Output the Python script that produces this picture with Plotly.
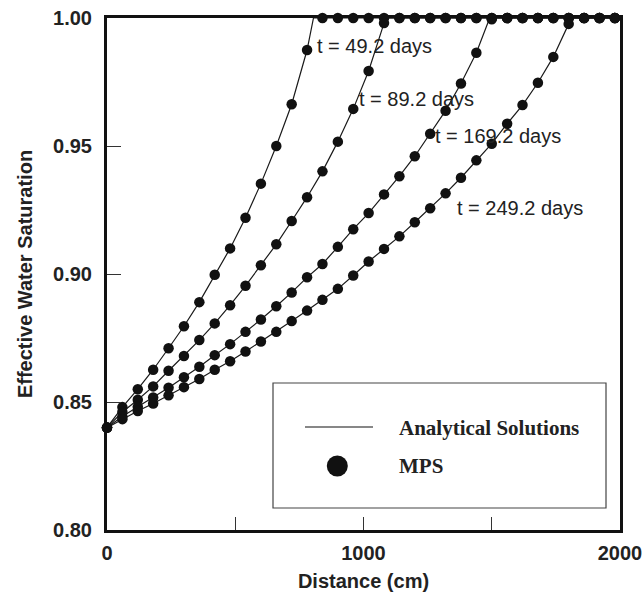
import plotly.graph_objects as go

# ---- data ----
distance_cm = [0, 60, 120, 180, 240, 300, 360, 420, 480, 540, 600, 660, 720, 780,
               840, 900, 960, 1020, 1080, 1140, 1200, 1260, 1320, 1380, 1440, 1500,
               1560, 1620, 1680, 1740, 1800, 1860, 1920, 1980]

sat_t49 = [0.840, 0.848, 0.855, 0.8626, 0.871, 0.8796, 0.889, 0.8997, 0.910, 0.922,
           0.9353, 0.950, 0.9663, 0.9875,
           1.0, 1.0, 1.0, 1.0, 1.0, 1.0, 1.0, 1.0, 1.0, 1.0, 1.0, 1.0, 1.0, 1.0, 1.0,
           1.0, 1.0, 1.0, 1.0, 1.0]
sat_t89 = [0.840, 0.8461, 0.8509, 0.8561, 0.8622, 0.868, 0.8742, 0.8807, 0.8878, 0.8954,
           0.9034, 0.9116, 0.9207, 0.930, 0.9401, 0.9517, 0.9645, 0.9793, 0.998,
           1.0, 1.0, 1.0, 1.0, 1.0, 1.0, 1.0, 1.0, 1.0, 1.0, 1.0, 1.0, 1.0, 1.0, 1.0]
sat_t169 = [0.840, 0.8443, 0.8481, 0.8518, 0.8556, 0.8597, 0.8638, 0.8683, 0.8726, 0.8774,
            0.8822, 0.8874, 0.8928, 0.8987, 0.9039, 0.9106, 0.9175, 0.9238, 0.9311, 0.9382,
            0.946, 0.9548, 0.9638, 0.9744, 0.9864, 0.9995,
            1.0, 1.0, 1.0, 1.0, 1.0, 1.0, 1.0, 1.0]
sat_t249 = [0.840, 0.8433, 0.8465, 0.8494, 0.8526, 0.8558, 0.859, 0.8626, 0.8659, 0.8697,
            0.8736, 0.8774, 0.8816, 0.8857, 0.8899, 0.8942, 0.8994, 0.9049, 0.9098, 0.9147,
            0.9202, 0.9257, 0.9315, 0.9376, 0.9444, 0.9509, 0.9587, 0.966, 0.9747, 0.9848,
            0.9977, 1.0, 1.0, 1.0]

series = [sat_t49, sat_t89, sat_t169, sat_t249]
# number of points below saturation on each analytical curve, and where it reaches 1.0
n_unsat = [14, 19, 25, 31]
front_x = [805, 1090, 1492, 1812]

labels = ["t = 49.2 days", "t = 89.2 days", "t = 169.2 days", "t = 249.2 days"]
label_x = [811, 975, 1271, 1357]
label_y = [0.9889, 0.9682, 0.9539, 0.9258]

# plot-area geometry in pixels
W, H = 643, 593
L, R, T, B = 107, 23, 18, 63
PW, PH = W - L - R, H - T - B


def px(x):
    return (x - L) / PW


def py(y):
    return (H - B - y) / PH


fig = go.Figure()

for ys, n, fx in zip(series, n_unsat, front_x):
    ax = distance_cm[:n] + [fx, 2000]
    ay = ys[:n] + [1.0, 1.0]
    fig.add_trace(go.Scatter(x=ax, y=ay, mode="lines",
                             line=dict(color="#1a1a1a", width=1.2),
                             cliponaxis=False, showlegend=False))

for ys in series:
    fig.add_trace(go.Scatter(x=distance_cm, y=ys, mode="markers",
                             marker=dict(color="#111111", size=10.5),
                             cliponaxis=False, showlegend=False))

for t, lx, ly in zip(labels, label_x, label_y):
    fig.add_annotation(x=lx, y=ly, text=t, showarrow=False, xanchor="left",
                       yanchor="middle",
                       font=dict(family="Liberation Sans", size=20, color="#222222"))

# legend box drawn manually (pixel positions measured on the reference)
fig.add_shape(type="rect", xref="paper", yref="paper", x0=px(273), x1=px(606),
              y0=py(508), y1=py(383), line=dict(color="#444444", width=1.2),
              fillcolor="white", layer="below")
fig.add_shape(type="line", xref="paper", yref="paper", x0=px(305), x1=px(373),
              y0=py(427), y1=py(427), line=dict(color="#111111", width=1.2))
fig.add_shape(type="circle", xref="paper", yref="paper",
              x0=px(337.3 - 10.5), x1=px(337.3 + 10.5),
              y0=py(466 + 10.5), y1=py(466 - 10.5),
              fillcolor="#111111", line=dict(color="#111111", width=0))
fig.add_annotation(xref="paper", yref="paper", x=px(396.7), y=py(428),
                   text="Analytical Solutions", showarrow=False,
                   xanchor="left", yanchor="middle",
                   font=dict(family="Liberation Serif", size=21, color="#222222",
                             weight="bold"))
fig.add_annotation(xref="paper", yref="paper", x=px(396.7), y=py(466),
                   text="MPS", showarrow=False,
                   xanchor="left", yanchor="middle",
                   font=dict(family="Liberation Serif", size=21, color="#222222",
                             weight="bold"))

axis_font = dict(family="Liberation Sans", size=20, color="#222222", weight="bold")
title_font = dict(family="Liberation Sans", size=20, color="#222222", weight="bold")

fig.update_xaxes(range=[0, 2000], tickvals=[0, 500, 1000, 1500, 2000],
                 ticktext=["0", "", "1000", "", "2000"],
                 ticks="inside", ticklen=13, tickwidth=1, tickcolor="#333333",
                 showline=True, linewidth=3, linecolor="#111111", mirror=True,
                 showgrid=False, zeroline=False, tickfont=axis_font,
                 ticklabelstandoff=3, automargin=False,
                 title=dict(text="Distance (cm)", font=title_font, standoff=11))
fig.update_yaxes(range=[0.80, 1.00], tickvals=[0.80, 0.85, 0.90, 0.95, 1.00],
                 ticktext=["0.80", "0.85", "0.90", "0.95", "1.00"],
                 ticks="inside", ticklen=14, tickwidth=1, tickcolor="#333333",
                 showline=True, linewidth=3, linecolor="#111111", mirror=True,
                 showgrid=False, zeroline=False, tickfont=axis_font,
                 ticklabelstandoff=8, automargin=False,
                 title=dict(text="Effective Water Saturation", font=title_font, standoff=16))

fig.update_layout(width=W, height=H, margin=dict(l=L, r=R, t=T, b=B),
                  plot_bgcolor="white", paper_bgcolor="white", showlegend=False)

fig.write_html("out.html")
